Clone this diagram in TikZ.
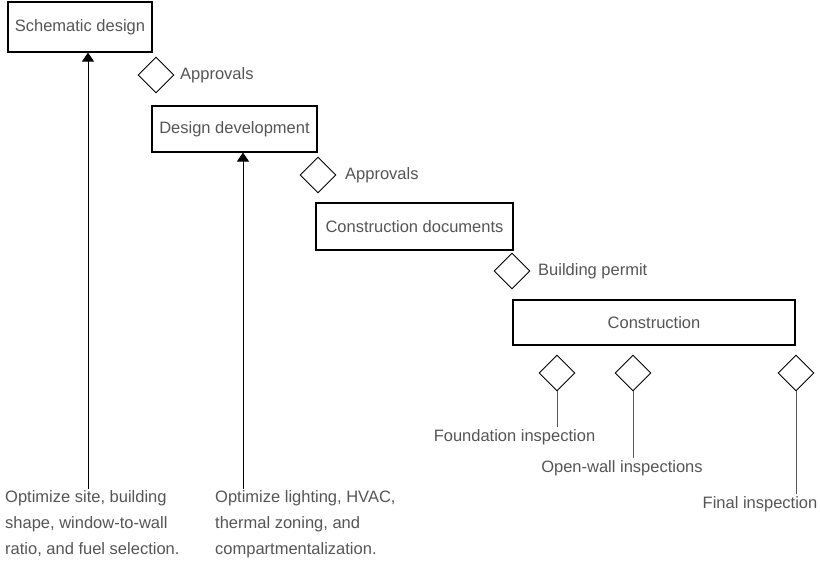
\documentclass[tikz,border=0pt]{standalone}
\usepackage{fontspec}
\setmainfont{Liberation Sans}
\usetikzlibrary{shapes.geometric,arrows.meta}
\definecolor{ink}{HTML}{555555}
\tikzset{
  phase/.style={draw, line width=1.1pt, text=ink, inner sep=0pt},
  gate/.style={draw, diamond, line width=0.9pt, minimum width=36pt, minimum height=36pt, inner sep=0pt, aspect=1},
  note/.style={text=ink, inner sep=0pt},
}
\begin{document}
\begin{tikzpicture}[x=1pt, y=-1pt, font=\fontsize{16.5}{26}\selectfont]
\useasboundingbox (0,0) rectangle (820,580);
\node[phase, minimum width=144pt, minimum height=50pt] (sd) at (80,27) {Schematic design};
\node[phase, minimum width=165pt, minimum height=46pt] (dd) at (234.5,129) {Design development};
\node[phase, minimum width=197pt, minimum height=47pt] (cd) at (414.5,226.5) {Construction documents};
\node[phase, minimum width=282pt, minimum height=45pt] (co) at (654,322.5) {Construction};
\node[gate] (g1) at (156,75) {};
\node[gate] (g2) at (318,175) {};
\node[gate] (g3) at (512,271) {};
\node[note, anchor=west] (a1) at (180,75) {Approvals};
\node[note, anchor=west] (a2) at (345,175) {Approvals};
\node[note, anchor=west] (bp) at (538,271) {Building permit};
\node[gate] (i1) at (557,373) {};
\node[gate] (i2) at (633,373) {};
\node[gate] (i3) at (796,373) {};
\node[note, inner sep=2pt] (fi) at (514.5,437) {Foundation inspection};
\node[note, inner sep=2pt] (ow) at (622,468) {Open-wall inspections};
\node[note, inner sep=2pt] (fn) at (760,504) {Final inspection};
\draw[ink, line width=0.9pt] (i1.south) -- (i1.south |- fi.north);
\draw[ink, line width=0.9pt] (i2.south) -- (i2.south |- ow.north);
\draw[ink, line width=0.9pt] (i3.south) -- (i3.south |- fn.north);
\node[note, anchor=north west, align=left] (o1) at (5,490) {Optimize site, building\\shape, window-to-wall\\ratio, and fuel selection.};
\node[note, anchor=north west, align=left] (o2) at (215,490) {Optimize lighting, HVAC,\\thermal zoning, and\\compartmentalization.};
\coordinate (t1) at (88,489);
\coordinate (t2) at (243,489);
\draw[line width=0.9pt, -{Triangle[width=12pt,length=9pt]}] (t1) -- (t1 |- sd.south);
\draw[line width=0.9pt, -{Triangle[width=12pt,length=9pt]}] (t2) -- (t2 |- dd.south);
\end{tikzpicture}
\end{document}
